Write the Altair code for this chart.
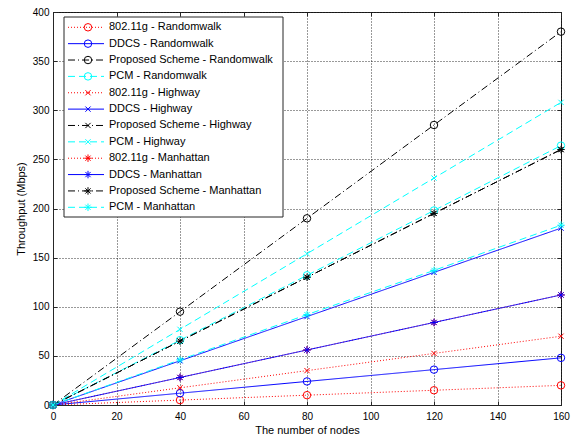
import altair as alt
import pandas as pd

FONT = "Liberation Sans"

x_nodes = [0, 40, 80, 120, 160]

series_names = [
    "802.11g - Randomwalk",
    "DDCS - Randomwalk",
    "Proposed Scheme - Randomwalk",
    "PCM - Randomwalk",
    "802.11g - Highway",
    "DDCS - Highway",
    "Proposed Scheme - Highway",
    "PCM - Highway",
    "802.11g - Manhattan",
    "DDCS - Manhattan",
    "Proposed Scheme - Manhattan",
    "PCM - Manhattan",
]

y_80211g_rw = [0, 5, 10, 15, 20]
y_ddcs_rw = [0, 12, 24, 36, 48]
y_prop_rw = [0, 95, 190, 285, 380]
y_pcm_rw = [0, 66, 132, 198, 264]
y_80211g_hw = [0, 17.5, 35, 52.5, 70]
y_ddcs_hw = [0, 45, 90, 135, 180]
y_prop_hw = [0, 65, 130, 195, 260]
y_pcm_hw = [0, 77, 154, 231, 308]
y_80211g_mh = [0, 28, 56, 84, 112]
y_ddcs_mh = [0, 28, 56, 84, 112]
y_prop_mh = [0, 65, 130, 195, 260]
y_pcm_mh = [0, 46, 92, 137, 183]

series_values = [
    y_80211g_rw, y_ddcs_rw, y_prop_rw, y_pcm_rw,
    y_80211g_hw, y_ddcs_hw, y_prop_hw, y_pcm_hw,
    y_80211g_mh, y_ddcs_mh, y_prop_mh, y_pcm_mh,
]

x_ticks = [0, 20, 40, 60, 80, 100, 120, 140, 160]
y_ticks = [0, 50, 100, 150, 200, 250, 300, 350, 400]

# styles
colors = ["#ff0000", "#0000ff", "#000000", "#00ffff"] * 3
dashes = [[1, 2], [1, 0], [7, 3, 1, 3], [7, 4]] * 3
X_PATH = "M-0.7,-0.7L0.7,0.7M-0.7,0.7L0.7,-0.7"
STAR_PATH = "M-1,0L1,0M0,-1L0,1M-0.7,-0.7L0.7,0.7M-0.7,0.7L0.7,-0.7"
shapes = ["circle"] * 4 + [X_PATH] * 4 + [STAR_PATH] * 4

rows = []
for i, (name, ys) in enumerate(zip(series_names, series_values)):
    for xv, yv in zip(x_nodes, ys):
        rows.append({"series": name, "idx": i, "x": xv, "y": yv})
df = pd.DataFrame(rows)

legend_df = pd.DataFrame({
    "series": series_names,
    "idx": list(range(len(series_names))),
    "color": colors,
    "dash": dashes,
    "shape": shapes,
})

xscale = alt.Scale(domain=[0, 160], nice=False, zero=False)
yscale = alt.Scale(domain=[0, 400], nice=False, zero=False)
color_scale = alt.Scale(domain=series_names, range=colors)
dash_scale = alt.Scale(domain=series_names, range=dashes)
shape_scale = alt.Scale(domain=series_names, range=shapes)

AX = "#262626"

x_main = alt.Axis(values=x_ticks, ticks=False, labelFontSize=10, labelFont=FONT,
                  labelColor="black", labelPadding=6, labelFlush=False,
                  title="The number of nodes", titleFontSize=11, titleFont=FONT,
                  titleFontWeight="normal", titleColor="black", titlePadding=3,
                  grid=True, gridColor="black", gridDash=[1, 2], gridOpacity=0.8,
                  domain=True, domainColor=AX)
y_main = alt.Axis(values=y_ticks, ticks=False, labelFontSize=10, labelFont=FONT,
                  labelColor="black", labelPadding=4, labelFlush=False,
                  title="Throughput (Mbps)", titleFontSize=11, titleFont=FONT,
                  titleFontWeight="normal", titleColor="black", titlePadding=6,
                  grid=True, gridColor="black", gridDash=[1, 2], gridOpacity=0.8,
                  domain=True, domainColor=AX)


def inner_axis(orient, vals):
    return alt.Axis(orient=orient, values=vals, labels=False, domain=False, grid=False,
                    ticks=True, tickSize=4, offset=-4, tickColor=AX, title=None)


base = alt.Chart(df)

lines = base.mark_line(strokeWidth=1, clip=True).encode(
    x=alt.X("x:Q", scale=xscale, axis=x_main),
    y=alt.Y("y:Q", scale=yscale, axis=y_main),
    color=alt.Color("series:N", scale=color_scale, legend=None),
    strokeDash=alt.StrokeDash("series:N", scale=dash_scale, legend=None),
    order=alt.Order("x:Q"),
)

points = base.mark_point(filled=False, size=56, strokeWidth=1, opacity=1).encode(
    x=alt.X("x:Q", scale=xscale, axis=inner_axis("top", x_ticks)),
    y=alt.Y("y:Q", scale=yscale, axis=inner_axis("right", y_ticks)),
    color=alt.Color("series:N", scale=color_scale, legend=None),
    shape=alt.Shape("series:N", scale=shape_scale, legend=None),
)

tick_layer = base.mark_point(opacity=0).encode(
    x=alt.X("x:Q", scale=xscale, axis=inner_axis("bottom", x_ticks)),
    y=alt.Y("y:Q", scale=yscale, axis=inner_axis("left", y_ticks)),
)

# ---- legend (drawn as marks inside the plot, MATLAB style) ----
leg_y = alt.Y("idx:Q", scale=alt.Scale(domain=[0, 11], range=[15.3, 195.3]), axis=None)

leg_frame = alt.Chart(pd.DataFrame({"k": [0]})).mark_rect(
    fill="white", stroke=AX, strokeWidth=1
).encode(x=alt.value(11), x2=alt.value(230), y=alt.value(5), y2=alt.value(205))

leg_base = alt.Chart(legend_df)

leg_lines = leg_base.mark_rule(strokeWidth=1).encode(
    x=alt.value(15), x2=alt.value(51), y=leg_y,
    color=alt.Color("color:N", scale=None),
    strokeDash=alt.StrokeDash("dash:N", scale=None),
)

leg_marks = leg_base.mark_point(filled=False, size=56, strokeWidth=1, opacity=1).encode(
    x=alt.value(35), y=leg_y,
    color=alt.Color("color:N", scale=None),
    shape=alt.Shape("shape:N", scale=None),
)

leg_text = leg_base.mark_text(align="left", baseline="middle", font=FONT,
                              fontSize=11, color="black").encode(
    x=alt.value(56), y=leg_y, text="series:N"
)

chart = (
    alt.layer(lines, points, tick_layer, leg_frame, leg_lines, leg_marks, leg_text)
    .resolve_scale(y="independent")
    .resolve_axis(x="independent", y="independent")
    .properties(width=508, height=393,
                padding={"left": 45, "top": 4, "right": 11, "bottom": 29},
                autosize=alt.AutoSizeParams(type="none"),
                background="white")
    .configure_view(stroke=AX, strokeWidth=1)
)

chart.save("out.html", embed_options={"renderer": "svg", "actions": False})
